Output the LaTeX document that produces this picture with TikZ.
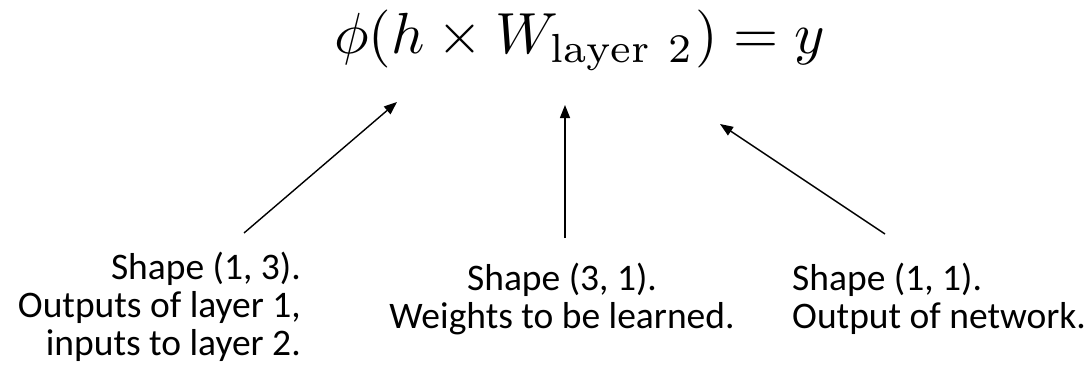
\documentclass[tikz,border=0pt]{standalone}
\usepackage{fontspec}
\newfontfamily\lblfont{Carlito}
\usetikzlibrary{arrows.meta}
\begin{document}
\begin{tikzpicture}[x=1pt,y=-1pt,
  lbl/.style={font=\lblfont\fontsize{37.5}{38}\selectfont, inner sep=0pt},
  arr/.style={line width=1.4pt, -{Triangle[length=13pt,width=10pt]}}]
\useasboundingbox (0,0) rectangle (1092,369);
\node[inner sep=0pt, anchor=base west] (eq) at (334,54)
  {\scalebox{5.8}{$\phi(h\times W_{\mathrm{layer~2}})=y$}};
\node[lbl, align=right, anchor=base east] (l1) at (301,355)
  {Shape (1, 3).\\Outputs of layer 1,\\inputs to layer 2.};
\node[lbl, align=center, anchor=base] (l2) at (562,328)
  {Shape (3, 1).\\Weights to be learned.};
\node[lbl, align=left, anchor=base west] (l3) at (792,328)
  {Shape (1, 1).\\Output of network.};
\coordinate (a1s) at (244,233);
\coordinate (a1e) at (397,102);
\coordinate (a2s) at (565,238);
\coordinate (a2e) at (565,105);
\coordinate (a3s) at (885,234);
\coordinate (a3e) at (720,124);
\draw[arr] (a1s) -- (a1e);
\draw[arr] (a2s) -- (a2e);
\draw[arr] (a3s) -- (a3e);
\end{tikzpicture}
\end{document}
